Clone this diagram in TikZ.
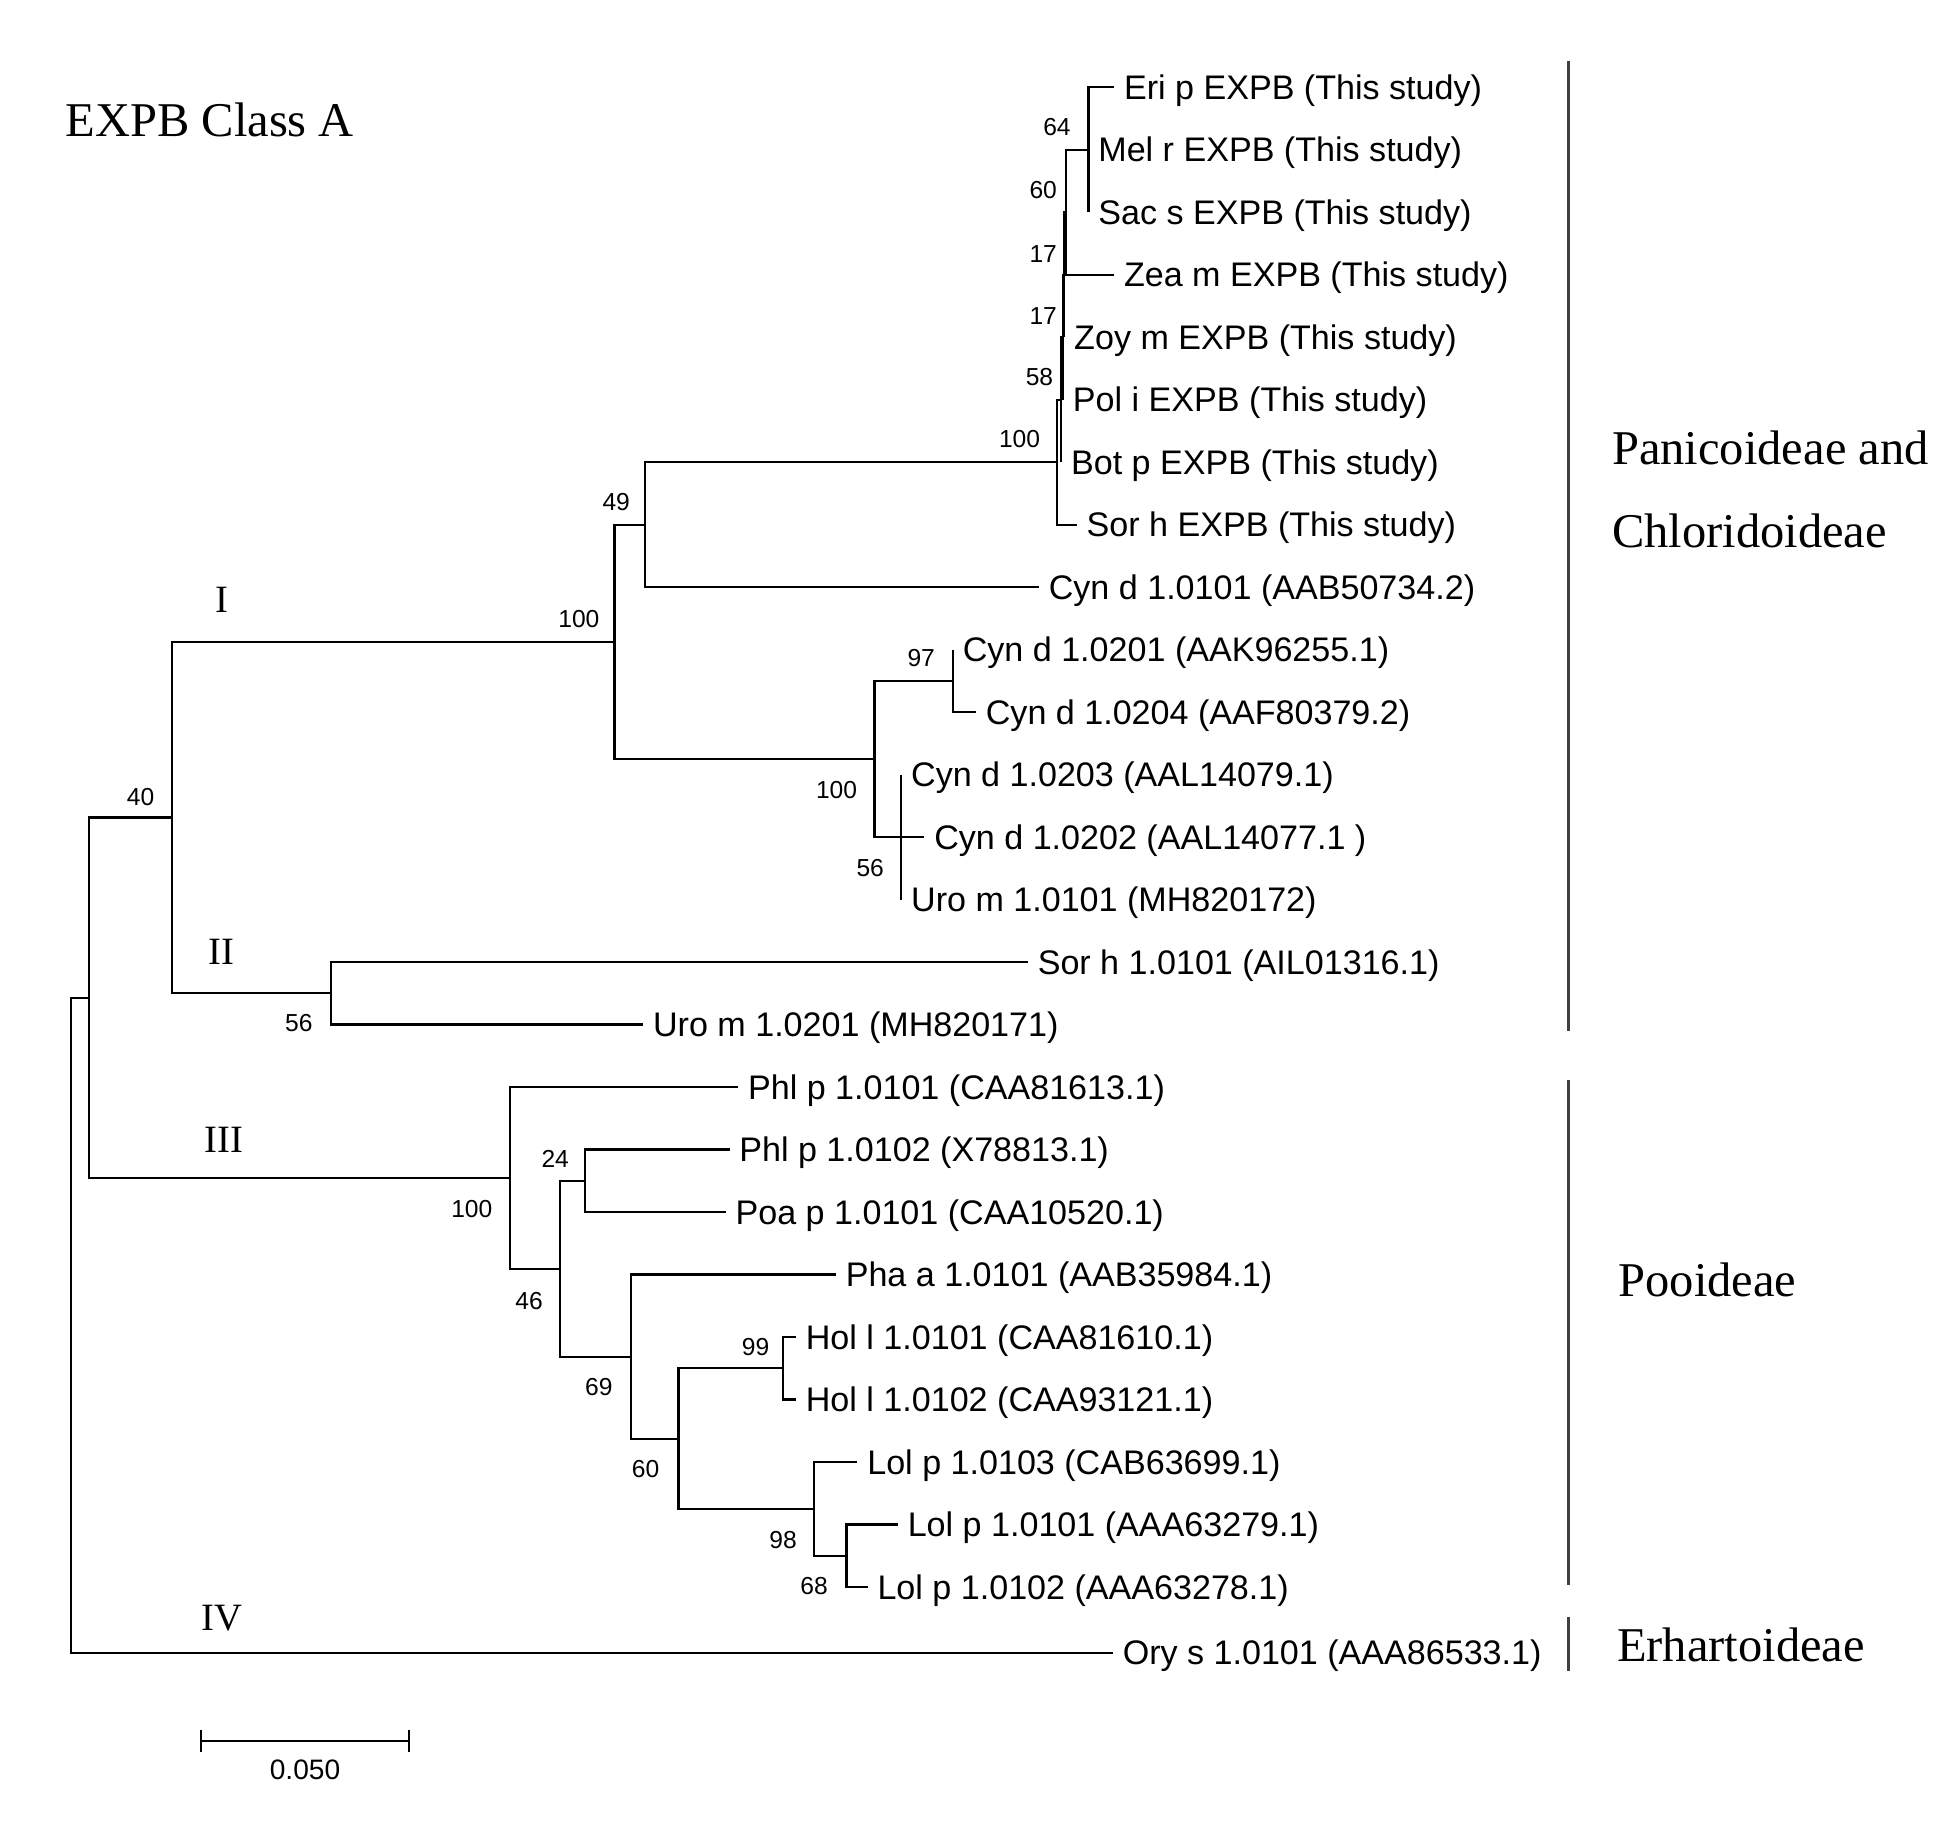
\documentclass[tikz,border=0pt]{standalone}
\usepackage{fontspec}
\setmainfont{Liberation Sans}
\newfontfamily\serifface{Liberation Serif}

\begin{document}
\begin{tikzpicture}[x=0.01245cm, y=-0.01245cm,
    branchline/.style={line width=0.6pt},
    leaflab/.style={anchor=west, inner xsep=2.6pt, inner ysep=0pt, text height=6.95pt, text depth=0pt, font=\fontsize{9.7}{11}\selectfont},
    bootlab/.style={inner sep=0pt, font=\fontsize{7}{8}\selectfont},
    romanlab/.style={inner sep=0pt, font=\serifface\fontsize{11}{13}\selectfont},
    cladelab/.style={anchor=base west, inner sep=0pt, font=\serifface\fontsize{13.8}{16}\selectfont},
    cladebar/.style={line width=0.8pt, black!75}]
    \useasboundingbox (0,0) rectangle (1568,1467);

    % title
    \node[cladelab] (title) at (52.2,109.8) {EXPB Class A};

    % leaves
    \node[leaflab] (eri) at (895,70) {Eri p EXPB (This study)};
    \node[leaflab] (mel) at (874.4,120.2) {Mel r EXPB (This study)};
    \node[leaflab] (sac) at (874.4,170.4) {Sac s EXPB (This study)};
    \node[leaflab] (zea) at (895,220.6) {Zea m EXPB (This study)};
    \node[leaflab] (zoy) at (855,270.8) {Zoy m EXPB (This study)};
    \node[leaflab] (pol) at (854,321) {Pol i EXPB (This study)};
    \node[leaflab] (bot) at (852.5,371.2) {Bot p EXPB (This study)};
    \node[leaflab] (sorE) at (865,421.4) {Sor h EXPB (This study)};
    \node[leaflab] (cyn0101) at (834.6,471.6) {Cyn d 1.0101 (AAB50734.2)};
    \node[leaflab] (cyn0201) at (765.5,521.8) {Cyn d 1.0201 (AAK96255.1)};
    \node[leaflab] (cyn0204) at (784,572) {Cyn d 1.0204 (AAF80379.2)};
    \node[leaflab] (cyn0203) at (724,622.2) {Cyn d 1.0203 (AAL14079.1)};
    \node[leaflab] (cyn0202) at (742.6,672.4) {Cyn d 1.0202 (AAL14077.1 )};
    \node[leaflab] (uro0101) at (724,722.6) {Uro m 1.0101 (MH820172)};
    \node[leaflab] (sor0101) at (825.7,772.8) {Sor h 1.0101 (AIL01316.1)};
    \node[leaflab] (uro0201) at (516.7,823) {Uro m 1.0201 (MH820171)};
    \node[leaflab] (phl0101) at (593,873.2) {Phl p 1.0101 (CAA81613.1)};
    \node[leaflab] (phl0102) at (586,923.4) {Phl p 1.0102 (X78813.1)};
    \node[leaflab] (poa) at (583,973.6) {Poa p 1.0101 (CAA10520.1)};
    \node[leaflab] (pha) at (671.5,1023.8) {Pha a 1.0101 (AAB35984.1)};
    \node[leaflab] (hol0101) at (639.4,1074) {Hol l 1.0101 (CAA81610.1)};
    \node[leaflab] (hol0102) at (639.4,1124.2) {Hol l 1.0102 (CAA93121.1)};
    \node[leaflab] (lol0103) at (688.8,1174.4) {Lol p 1.0103 (CAB63699.1)};
    \node[leaflab] (lol0101) at (721.3,1224.6) {Lol p 1.0101 (AAA63279.1)};
    \node[leaflab] (lol0102) at (697,1274.8) {Lol p 1.0102 (AAA63278.1)};
    \node[leaflab] (ory) at (894,1327.5) {Ory s 1.0101 (AAA86533.1)};

    % internal nodes
    \coordinate (n64) at (874.4,120.2);
    \coordinate (n60) at (856,170.4);
    \coordinate (n17a) at (855,220.6);
    \coordinate (n17b) at (854,270.8);
    \coordinate (n58) at (852.5,321);
    \coordinate (nE100) at (849,371.2);
    \coordinate (n49) at (518,421.4);
    \coordinate (n97) at (765.5,546.9);
    \coordinate (n56c) at (724,672.4);
    \coordinate (nC100) at (702.5,609.65);
    \coordinate (nI100) at (493.6,515.5);
    \coordinate (nII56) at (266,797.9);
    \coordinate (n40) at (138,656.7);
    \coordinate (n68) at (680,1249.7);
    \coordinate (n98) at (654,1212);
    \coordinate (n99) at (629.3,1099.1);
    \coordinate (n60p) at (545,1155.6);
    \coordinate (n69) at (506.7,1089.7);
    \coordinate (n24) at (470,948.5);
    \coordinate (n46) at (449.5,1019.1);
    \coordinate (nIII100) at (409.7,946.2);
    \coordinate (nA) at (71.5,801.45);
    \coordinate (nR) at (56.7,1064.5);

    % branches
    \draw[branchline] (eri.west) -| (n64) |- (sac.west);
    \draw[branchline] (n64) -| (n60) |- (zea.west);
    \draw[branchline] (n60) -| (n17a) |- (zoy.west);
    \draw[branchline] (n17a) -| (n17b) |- (pol.west);
    \draw[branchline] (n17b) -| (n58) |- (bot.west);
    \draw[branchline] (n58) -| (nE100) |- (sorE.west);
    \draw[branchline] (nE100) -| (n49) |- (cyn0101.west);
    \draw[branchline] (n49) -| (nI100) |- (nC100);
    \draw[branchline] (cyn0201.west) -| (n97) |- (cyn0204.west);
    \draw[branchline] (n97) -| (nC100) |- (n56c) -- (cyn0202.west);
    \draw[branchline] (cyn0203.west) -| (n56c) |- (uro0101.west);
    \draw[branchline] (nI100) -| (n40) |- (nII56);
    \draw[branchline] (sor0101.west) -| (nII56) |- (uro0201.west);
    \draw[branchline] (n40) -| (nA) |- (nIII100);
    \draw[branchline] (nA) -| (nR) |- (ory.west);
    \draw[branchline] (phl0101.west) -| (nIII100) |- (n46);
    \draw[branchline] (n24) -| (n46) |- (n69);
    \draw[branchline] (phl0102.west) -| (n24) |- (poa.west);
    \draw[branchline] (pha.west) -| (n69) |- (n60p);
    \draw[branchline] (n99) -| (n60p) |- (n98);
    \draw[branchline] (hol0101.west) -| (n99) |- (hol0102.west);
    \draw[branchline] (lol0103.west) -| (n98) |- (n68);
    \draw[branchline] (lol0101.west) -| (n68) |- (lol0102.west);

    % bootstrap values
    \node[bootlab] (b64) at (849,102) {64};
    \node[bootlab] (b60) at (838,152.6) {60};
    \node[bootlab] (b17a) at (838,203.7) {17};
    \node[bootlab] (b17b) at (838,253.9) {17};
    \node[bootlab] (b58) at (835,302.6) {58};
    \node[bootlab] (b100e) at (819,352.8) {100};
    \node[bootlab] (b49) at (495,403) {49};
    \node[bootlab] (b100i) at (465,497.6) {100};
    \node[bootlab] (b40) at (113,640) {40};
    \node[bootlab] (b97) at (740,528.5) {97};
    \node[bootlab] (b100c) at (672,634.6) {100};
    \node[bootlab] (b56c) at (699,697) {56};
    \node[bootlab] (b56ii) at (240,821.7) {56};
    \node[bootlab] (b100iii) at (379,971) {100};
    \node[bootlab] (b24) at (446,931) {24};
    \node[bootlab] (b46) at (425,1045) {46};
    \node[bootlab] (b69) at (481,1114) {69};
    \node[bootlab] (b99) at (607,1082) {99};
    \node[bootlab] (b60p) at (518.6,1180) {60};
    \node[bootlab] (b98) at (629,1237) {98};
    \node[bootlab] (b68) at (654,1274) {68};

    % groups
    \node[romanlab] (rI) at (178,481.6) {I};
    \node[romanlab] (rII) at (178,764.7) {II};
    \node[romanlab] (rIII) at (180,916) {III};
    \node[romanlab] (rIV) at (178,1300) {IV};

    % subfamilies
    \draw[cladebar] (1260,48.8) -- (1260,828.5);
    \draw[cladebar] (1260,867.6) -- (1260,1273);
    \draw[cladebar] (1260,1299) -- (1260,1342);
    \node[cladelab] (panic) at (1294.5,373.5) {Panicoideae and};
    \node[cladelab] (chlor) at (1294.5,440) {Chloridoideae};
    \node[cladelab] (pooid) at (1299.6,1041.5) {Pooideae};
    \node[cladelab] (erhar) at (1298.5,1334.7) {Erhartoideae};

    % scale bar
    \coordinate (sbL) at (161.2,1398.4);
    \coordinate (sbR) at (328.8,1398.4);
    \draw[branchline] (sbL) -- (sbR);
    \draw[branchline] ([yshift=3.2pt]sbL) -- ([yshift=-3.2pt]sbL);
    \draw[branchline] ([yshift=3.2pt]sbR) -- ([yshift=-3.2pt]sbR);
    \node[inner sep=0pt, font=\fontsize{8}{9}\selectfont] (scalelab) at (245,1421.7) {0.050};
\end{tikzpicture}
\end{document}
